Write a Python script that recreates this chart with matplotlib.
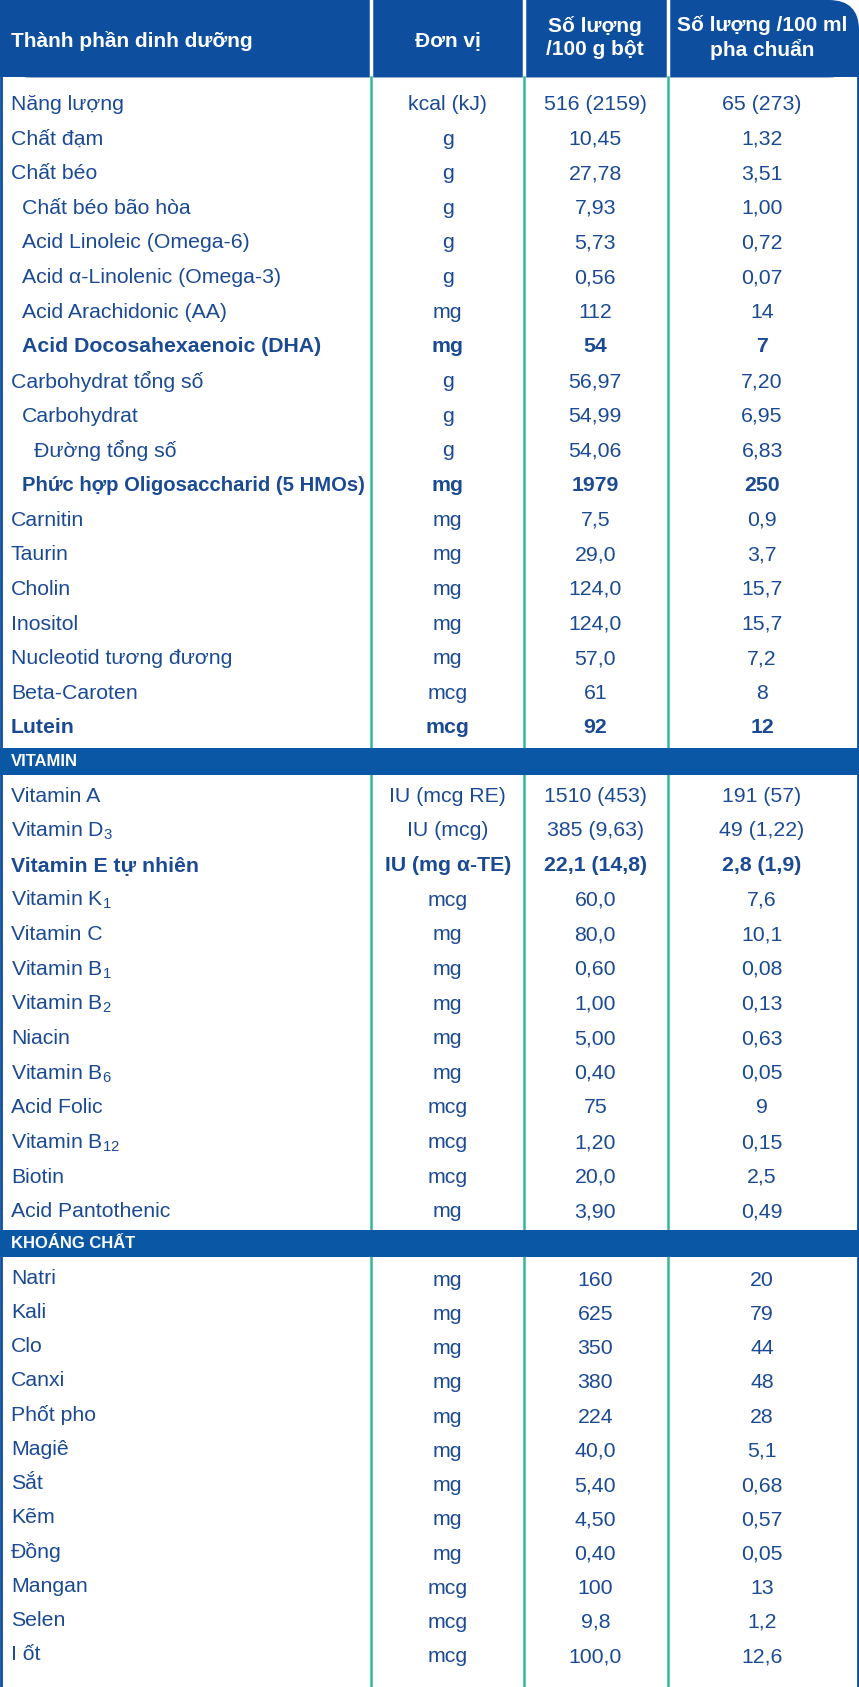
import matplotlib
matplotlib.use("Agg")
import matplotlib.pyplot as plt
from matplotlib.patches import FancyBboxPatch, Rectangle

plt.rcParams['font.family'] = ['Liberation Sans', 'DejaVu Sans']
plt.rcParams['mathtext.fontset'] = 'custom'
plt.rcParams['mathtext.rm'] = 'Liberation Sans'
plt.rcParams['mathtext.bf'] = 'Liberation Sans:bold'

headers = ["Thành phần dinh dưỡng", "Đơn vị", "Số lượng\n/100 g bột", "Số lượng /100 ml\npha chuẩn"]

# (name, indent level, bold, unit, per100g, per100ml)
sec1 = [
    ("Năng lượng", 0, False, "kcal (kJ)", "516 (2159)", "65 (273)"),
    ("Chất đạm", 0, False, "g", "10,45", "1,32"),
    ("Chất béo", 0, False, "g", "27,78", "3,51"),
    ("Chất béo bão hòa", 1, False, "g", "7,93", "1,00"),
    ("Acid Linoleic (Omega-6)", 1, False, "g", "5,73", "0,72"),
    ("Acid α-Linolenic (Omega-3)", 1, False, "g", "0,56", "0,07"),
    ("Acid Arachidonic (AA)", 1, False, "mg", "112", "14"),
    ("Acid Docosahexaenoic (DHA)", 1, True, "mg", "54", "7"),
    ("Carbohydrat tổng số", 0, False, "g", "56,97", "7,20"),
    ("Carbohydrat", 1, False, "g", "54,99", "6,95"),
    ("Đường tổng số", 2, False, "g", "54,06", "6,83"),
    ("Phức hợp Oligosaccharid (5 HMOs)", 1, True, "mg", "1979", "250"),
    ("Carnitin", 0, False, "mg", "7,5", "0,9"),
    ("Taurin", 0, False, "mg", "29,0", "3,7"),
    ("Cholin", 0, False, "mg", "124,0", "15,7"),
    ("Inositol", 0, False, "mg", "124,0", "15,7"),
    ("Nucleotid tương đương", 0, False, "mg", "57,0", "7,2"),
    ("Beta-Caroten", 0, False, "mcg", "61", "8"),
    ("Lutein", 0, True, "mcg", "92", "12"),
]
sec2_title = "VITAMIN"
sec2 = [
    ("Vitamin A", 0, False, "IU (mcg RE)", "1510 (453)", "191 (57)"),
    ("Vitamin D$_3$", 0, False, "IU (mcg)", "385 (9,63)", "49 (1,22)"),
    ("Vitamin E tự nhiên", 0, True, "IU (mg α-TE)", "22,1 (14,8)", "2,8 (1,9)"),
    ("Vitamin K$_1$", 0, False, "mcg", "60,0", "7,6"),
    ("Vitamin C", 0, False, "mg", "80,0", "10,1"),
    ("Vitamin B$_1$", 0, False, "mg", "0,60", "0,08"),
    ("Vitamin B$_2$", 0, False, "mg", "1,00", "0,13"),
    ("Niacin", 0, False, "mg", "5,00", "0,63"),
    ("Vitamin B$_6$", 0, False, "mg", "0,40", "0,05"),
    ("Acid Folic", 0, False, "mcg", "75", "9"),
    ("Vitamin B$_{12}$", 0, False, "mcg", "1,20", "0,15"),
    ("Biotin", 0, False, "mcg", "20,0", "2,5"),
    ("Acid Pantothenic", 0, False, "mg", "3,90", "0,49"),
]
sec3_title = "KHOÁNG CHẤT"
sec3 = [
    ("Natri", 0, False, "mg", "160", "20"),
    ("Kali", 0, False, "mg", "625", "79"),
    ("Clo", 0, False, "mg", "350", "44"),
    ("Canxi", 0, False, "mg", "380", "48"),
    ("Phốt pho", 0, False, "mg", "224", "28"),
    ("Magiê", 0, False, "mg", "40,0", "5,1"),
    ("Sắt", 0, False, "mg", "5,40", "0,68"),
    ("Kẽm", 0, False, "mg", "4,50", "0,57"),
    ("Đồng", 0, False, "mg", "0,40", "0,05"),
    ("Mangan", 0, False, "mcg", "100", "13"),
    ("Selen", 0, False, "mcg", "9,8", "1,2"),
    ("I ốt", 0, False, "mcg", "100,0", "12,6"),
]

W, H = 798, 1568
HEAD = "#0d4f9e"
BAND = "#0a57a5"
TXT = "#1b4a94"
GREEN = "#34b59c"

fig = plt.figure(figsize=(8.59, 16.87), dpi=100)
ax = fig.add_axes([0, 0, 1, 1])
ax.set_xlim(0, W)
ax.set_ylim(H, 0)
ax.axis('off')

# header with rounded top-right corner
ax.add_patch(FancyBboxPatch((0, 0), W, 72, boxstyle="round,pad=0,rounding_size=28",
                            fc=HEAD, ec='none'))
ax.add_patch(Rectangle((0, 0), 60, 72, fc=HEAD, ec='none'))
ax.add_patch(Rectangle((0, 36), W, 36, fc=HEAD, ec='none'))
for x in (345, 487, 621):
    ax.plot([x, x], [0, 72], color='white', lw=2.5)
    ax.plot([x, x], [72, H], color=GREEN, lw=1.8)
ax.plot([1, 1], [72, H], color=HEAD, lw=2)
ax.plot([W - 1, W - 1], [72, H], color=HEAD, lw=2)

hs = 15
ax.text(10, 38, headers[0], color='white', fontsize=hs, fontweight='bold', va='center')
ax.text(416, 38, headers[1], color='white', fontsize=hs, fontweight='bold', va='center', ha='center')
ax.text(553, 35, headers[2], color='white', fontsize=hs, fontweight='bold', va='center', ha='center',
        linespacing=1.25)
ax.text(708, 35, headers[3], color='white', fontsize=hs, fontweight='bold', va='center', ha='center',
        linespacing=1.25)

fs = 15.3
xs_indent = [10, 20, 32]

def draw_rows(rows, y0, dy, lab_off=0):
    for i, (name, lvl, bold, unit, v1, v2) in enumerate(rows):
        y = y0 + i * dy
        fw = 'bold' if bold else 'normal'
        lfs = 14.6 if len(name) > 28 else fs
        ax.text(xs_indent[lvl], y + lab_off, name, color=TXT, fontsize=lfs, fontweight=fw, va='center')
        ax.text(416, y, unit, color=TXT, fontsize=fs, fontweight=fw, va='center', ha='center')
        ax.text(553, y, v1, color=TXT, fontsize=fs, fontweight=fw, va='center', ha='center')
        ax.text(708, y, v2, color=TXT, fontsize=fs, fontweight=fw, va='center', ha='center')

def band(y, title):
    ax.add_patch(Rectangle((0, y), W, 25, fc=BAND, ec='none', zorder=3))
    ax.text(10, y + 13, title, color='white', fontsize=12, fontweight='bold', va='center', zorder=4)

draw_rows(sec1, 97, 32.2)
band(695, sec2_title)
draw_rows(sec2, 740, 32.2)
band(1143, sec3_title)
draw_rows(sec3, 1190, 31.8, lab_off=-2)

fig.savefig("out.png", dpi=100)
